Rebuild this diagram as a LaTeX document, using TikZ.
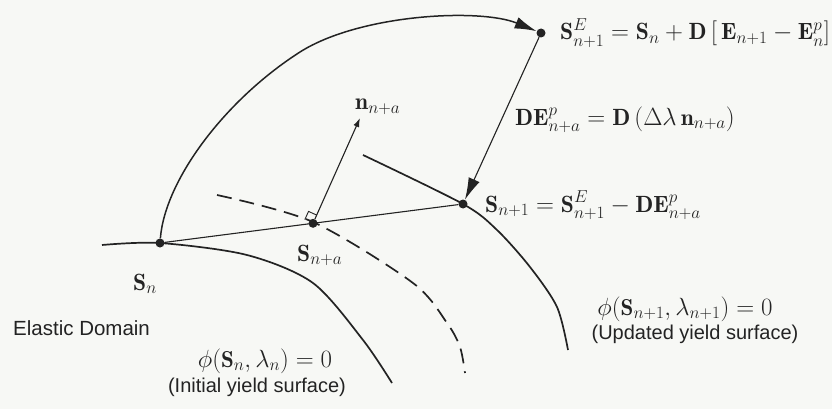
\documentclass[tikz,border=0pt]{standalone}
\usepackage{fontspec}
\setsansfont{Liberation Sans}
\usetikzlibrary{arrows.meta,calc}
\definecolor{bg}{RGB}{247,248,245}
\definecolor{ink}{RGB}{35,35,35}
\begin{document}
\begin{tikzpicture}[x=1pt,y=-1pt,
  dot/.style={circle,fill=ink,inner sep=0pt,minimum size=9pt},
  curve/.style={draw=ink,line width=1.7pt},
  thinline/.style={draw=ink,line width=1.1pt},
  bigarrow/.style={-{Latex[length=22pt,width=12pt]}},
  smallarrow/.style={-{Latex[length=9pt,width=6pt]}},
  lbl/.style={inner sep=0pt,anchor=base west,text=ink,font=\fontsize{23.5}{26}\selectfont},
  clbl/.style={inner sep=0pt,anchor=base,text=ink,font=\fontsize{23}{25}\selectfont},
  slbl/.style={inner sep=0pt,anchor=base west,text=ink,font=\sffamily\fontsize{20.5}{23}\selectfont},
  cslbl/.style={inner sep=0pt,anchor=base,text=ink,font=\sffamily\fontsize{20}{22}\selectfont}]
\fill[bg] (0,0) rectangle (832,409);
\useasboundingbox (0,0) rectangle (832,409);

% state points
\node[dot] (Sn) at (160,243) {};
\node[dot] (Sn1) at (463,204) {};
\node[dot] (SE) at (541,33) {};
\node[dot] (Sna) at ($(Sn)!0.505!(Sn1)$) {};
\coordinate (ntip) at (360,118);

% yield surfaces
\draw[curve] plot[smooth] coordinates {(102,245) (160,243) (247,255) (313,283) (363,340) (392,383)};
\draw[curve,dash pattern=on 15pt off 8pt] plot[smooth] coordinates {(217,195) (313,222) (413,283) (447,323) (460,347) (465,373)};
\draw[curve] plot[smooth] coordinates {(363,155) (463,204) (497,230) (530,267) (557,307) (568,350)};

% connectors
\draw[thinline] (Sn) -- (Sn1);
\draw[curve,line width=1.5pt,bigarrow] (Sn) .. controls (165,180) and (225,100) .. (300,52) .. controls (360,14) and (480,8) .. (SE);
\draw[thinline,bigarrow] (SE) -- (Sn1);
\draw[thinline,smallarrow] (Sna) -- (ntip);
\draw[thinline,line width=0.9pt] ($(Sna)+(3.7,-8.2)$) -- ++(-8.2,-3.7) -- ++(-3.7,8.2);

% labels
\node[lbl] (lSE) at (560,40) {$\mathbf{S}^{E}_{n+1} = \mathbf{S}_{n} + \mathbf{D}\,[\,\mathbf{E}_{n+1} - \mathbf{E}^{p}_{n}]$};
\node[lbl] (lDE) at (515,125) {$\mathbf{D}\mathbf{E}^{p}_{n+a} = \mathbf{D}\,(\Delta\lambda\,\mathbf{n}_{n+a})$};
\node[lbl] (lSn1) at (485,212) {$\mathbf{S}_{n+1} = \mathbf{S}^{E}_{n+1} - \mathbf{D}\mathbf{E}^{p}_{n+a}$};
\node[lbl] (lSna) at (297,261) {$\mathbf{S}_{n+a}$};
\node[lbl] (lSn) at (133,290) {$\mathbf{S}_{n}$};
\node[lbl] (ln) at (355,110) {$\mathbf{n}_{n+a}$};
\node[slbl] (lEl) at (13,335) {Elastic Domain};
\node[clbl] (lphi0) at (265,367) {$\phi(\mathbf{S}_{n}, \lambda_{n}) = 0$};
\node[cslbl] (lini) at (257,392) {(Initial yield surface)};
\node[clbl] (lphi1) at (685,315) {$\phi(\mathbf{S}_{n+1}, \lambda_{n+1}) = 0$};
\node[cslbl] (lupd) at (695,339) {(Updated yield surface)};
\end{tikzpicture}
\end{document}
